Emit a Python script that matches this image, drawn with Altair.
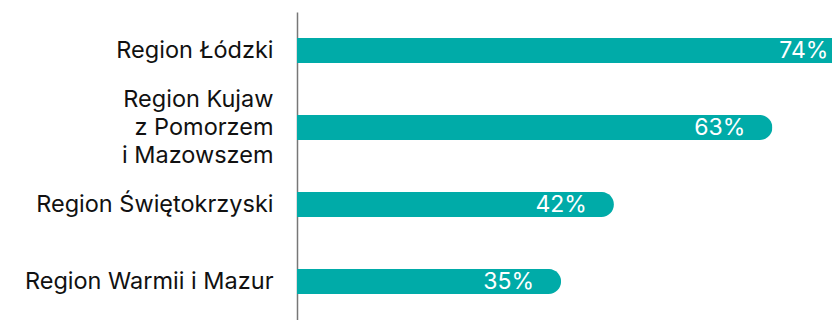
import altair as alt
import pandas as pd

regions = [
    "Region Łódzki\u00a0",
    "Region Kujaw|z Pomorzem|i Mazowszem",
    "Region Świętokrzyski",
    "Region Warmii i Mazur",
]
values = [74, 63, 42, 35]

df = pd.DataFrame({"region": regions, "value": values})

TEAL = "#00ABA8"
PAD = 0.675

y_enc = alt.Y(
    "region:N",
    sort=None,
    scale=alt.Scale(paddingInner=PAD, paddingOuter=PAD / 2),
    axis=alt.Axis(
        title=None,
        ticks=False,
        grid=False,
        labelFont="Inter",
        labelFontSize=23.5,
        labelColor="#111111",
        labelPadding=24,
        labelLineHeight=28,
        labelLimit=400,
        labelOffset={"condition": {"test": "indexof(datum.value, '|') >= 0", "value": -28}, "value": 0},
        labelExpr="split(datum.label, '|')",
        domainColor="#777777",
        domainWidth=1.5,
    ),
)

x_enc = alt.X(
    "value:Q",
    scale=alt.Scale(domain=[0, 70.9]),
    axis=None,
)

base = alt.Chart(df).encode(y=y_enc, x=x_enc)

bars = base.mark_bar(color=TEAL, cornerRadiusEnd=12.5)

labels = base.transform_calculate(lbl="datum.value + '%'").mark_text(
    align="right",
    baseline="middle",
    dx=-27,
    color="white",
    font="Inter",
    fontSize=23,
).encode(text="lbl:N")

chart = (
    alt.layer(bars, labels)
    .properties(
        width=535,
        height=308,
        autosize=alt.AutoSizeParams(type="none"),
        padding={"left": 289, "top": 4, "right": 0, "bottom": 0},
    )
    .configure_view(stroke=None)
)

chart.save("out.html", embed_options={"renderer": "svg", "actions": False})
